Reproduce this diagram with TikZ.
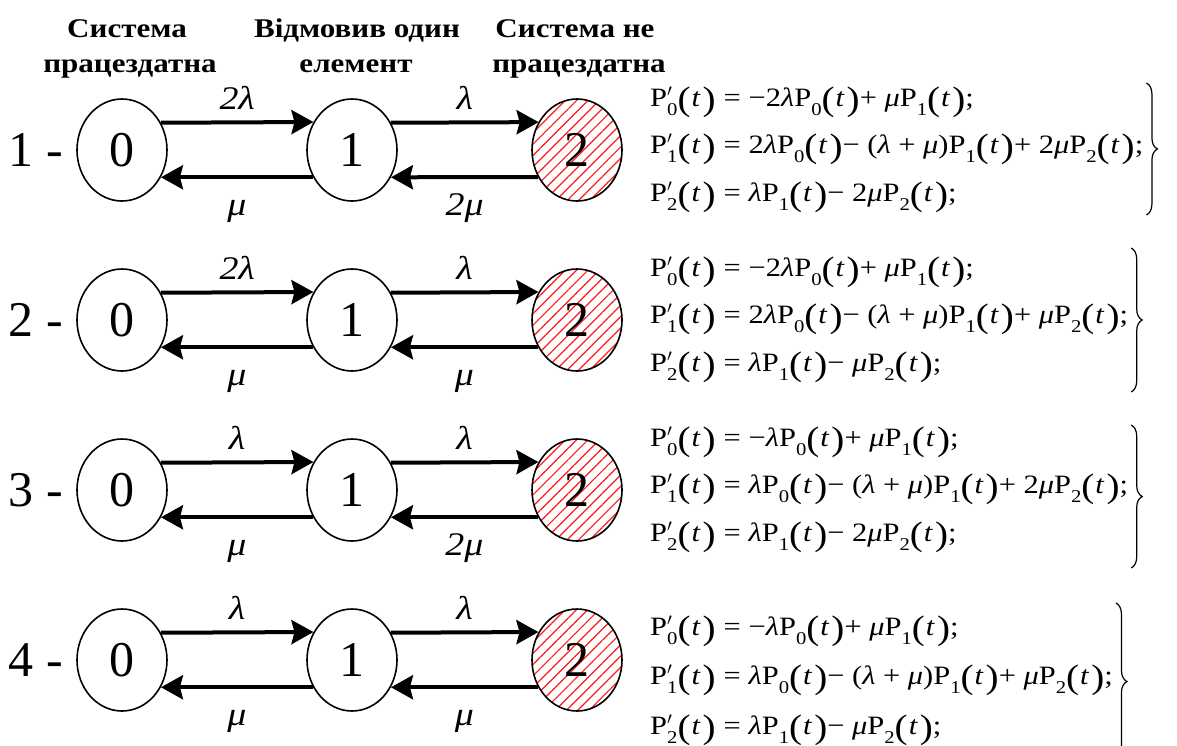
\documentclass[tikz,border=0pt]{standalone}
\usepackage{fontspec}
\setmainfont{Liberation Serif}[FakeStretch=1.15]
\newfontfamily\plainrm{Liberation Serif}
\usetikzlibrary{shapes.geometric,arrows.meta,patterns.meta,decorations.pathreplacing,calc}
\newcommand{\subsz}{\fontsize{18}{18}\selectfont}
\newcommand{\pfont}{\fontsize{34}{34}\selectfont}
\newcommand{\Pn}[1]{P\raisebox{-9.5pt}{\subsz #1}}
\newcommand{\Pd}[1]{P\rlap{$^{\prime}$}\raisebox{-9.5pt}{\subsz #1}}
\newcommand{\Tv}{\raisebox{-4.5pt}{\pfont(}\kern1pt\textit{t}\kern2pt\raisebox{-4.5pt}{\pfont)}}
\newcommand{\lam}{\textit{λ}}
\newcommand{\mmu}{\textit{μ}}
\newcommand{\eqs}{\hspace{0.3em}=\hspace{0.3em}}
\tikzset{
  state/.style={ellipse, draw, line width=1.6pt, minimum width=90pt, minimum height=102pt, inner sep=0pt, font=\plainrm\fontsize{50}{50}\selectfont},
  failstate/.style={state, pattern={Lines[angle=45,distance=8pt,line width=1.2pt]}, pattern color=red!90},
  arr/.style={line width=4pt, -{Stealth[length=22pt,width=24pt,inset=3pt]}},
  lbl/.style={font=\fontsize{33}{33}\selectfont\itshape, inner sep=0pt, anchor=base},
  head/.style={font=\fontsize{27}{27}\selectfont\bfseries, inner sep=0pt, anchor=base},
  rowlbl/.style={font=\plainrm\fontsize{50}{50}\selectfont, inner sep=0pt},
  eql/.style={font=\fontsize{26.5}{26.5}\selectfont, inner sep=0pt, anchor=base west},
  brc/.style={decorate, decoration={brace, amplitude=11pt, aspect=0.5}, line width=1.2pt}
}
\begin{document}
\begin{tikzpicture}[x=1pt,y=-1pt]
\clip (0,0) rectangle (1177,745);
\fill[white] (0,0) rectangle (1177,745);
\node[head] (h0a) at (127,37) {Система};
\node[head] (h0b) at (130,72) {працездатна};
\node[head] (h1a) at (357,37) {Відмовив один};
\node[head] (h1b) at (356,72) {елемент};
\node[head] (h2a) at (575,37) {Система не};
\node[head] (h2b) at (579,72) {працездатна};
\foreach \r/\y/\la/\mb in {1/150/2λ/2μ, 2/320/2λ/μ, 3/490/λ/2μ, 4/660/λ/μ}{
  \node[state] (a\r) at (122,\y) {0};
  \node[state] (b\r) at (352,\y) {1};
  \node[failstate] (c\r) at (577,\y) {2};
  \node[rowlbl] (l\r) at (36,\y) {\r\ -};
  \draw[arr] (a\r.35.25) -- node[lbl, yshift=13pt] {\la} (b\r.144.75);
  \draw[arr] (b\r.35.25) -- node[lbl, yshift=13pt] {λ} (c\r.144.75);
  \draw[arr] (c\r.215.25) -- node[lbl, yshift=-38pt] {\mb} (b\r.-35.25);
  \draw[arr] (b\r.215.25) -- node[lbl, yshift=-38pt] {μ} (a\r.-35.25);
}
% row 1
\node[eql] (e1a) at (650,106) {\Pd{0}\Tv\eqs −2\lam\Pn{0}\Tv+ \mmu\Pn{1}\Tv;};
\node[eql] (e1b) at (650,153) {\Pd{1}\Tv\eqs 2\lam\Pn{0}\Tv− (\lam{} + \mmu)\Pn{1}\Tv+ 2\mmu\Pn{2}\Tv;};
\node[eql] (e1c) at (650,201) {\Pd{2}\Tv\eqs \lam\Pn{1}\Tv− 2\mmu\Pn{2}\Tv;};
% row 2
\node[eql] (e2a) at (650,276) {\Pd{0}\Tv\eqs −2\lam\Pn{0}\Tv+ \mmu\Pn{1}\Tv;};
\node[eql] (e2b) at (650,323) {\Pd{1}\Tv\eqs 2\lam\Pn{0}\Tv− (\lam{} + \mmu)\Pn{1}\Tv+ \mmu\Pn{2}\Tv;};
\node[eql] (e2c) at (650,371) {\Pd{2}\Tv\eqs \lam\Pn{1}\Tv− \mmu\Pn{2}\Tv;};
% row 3
\node[eql] (e3a) at (650,446) {\Pd{0}\Tv\eqs −\lam\Pn{0}\Tv+ \mmu\Pn{1}\Tv;};
\node[eql] (e3b) at (650,493) {\Pd{1}\Tv\eqs \lam\Pn{0}\Tv− (\lam{} + \mmu)\Pn{1}\Tv+ 2\mmu\Pn{2}\Tv;};
\node[eql] (e3c) at (650,541) {\Pd{2}\Tv\eqs \lam\Pn{1}\Tv− 2\mmu\Pn{2}\Tv;};
% row 4
\node[eql] (e4a) at (650,635) {\Pd{0}\Tv\eqs −\lam\Pn{0}\Tv+ \mmu\Pn{1}\Tv;};
\node[eql] (e4b) at (650,684) {\Pd{1}\Tv\eqs \lam\Pn{0}\Tv− (\lam{} + \mmu)\Pn{1}\Tv+ \mmu\Pn{2}\Tv;};
\node[eql] (e4c) at (650,734) {\Pd{2}\Tv\eqs \lam\Pn{1}\Tv− \mmu\Pn{2}\Tv;};
% braces
\coordinate (t1) at (0,83);  \coordinate (u1) at (0,215);
\coordinate (t2) at (0,248); \coordinate (u2) at (0,392);
\coordinate (t3) at (0,425); \coordinate (u3) at (0,568);
\coordinate (t4) at (0,603); \coordinate (u4) at (0,760);
\foreach \r in {1,2,3,4}{
  \draw[brc] ([xshift=3pt]e\r b.east |- t\r) -- ([xshift=3pt]e\r b.east |- u\r);
}
\end{tikzpicture}
\end{document}
